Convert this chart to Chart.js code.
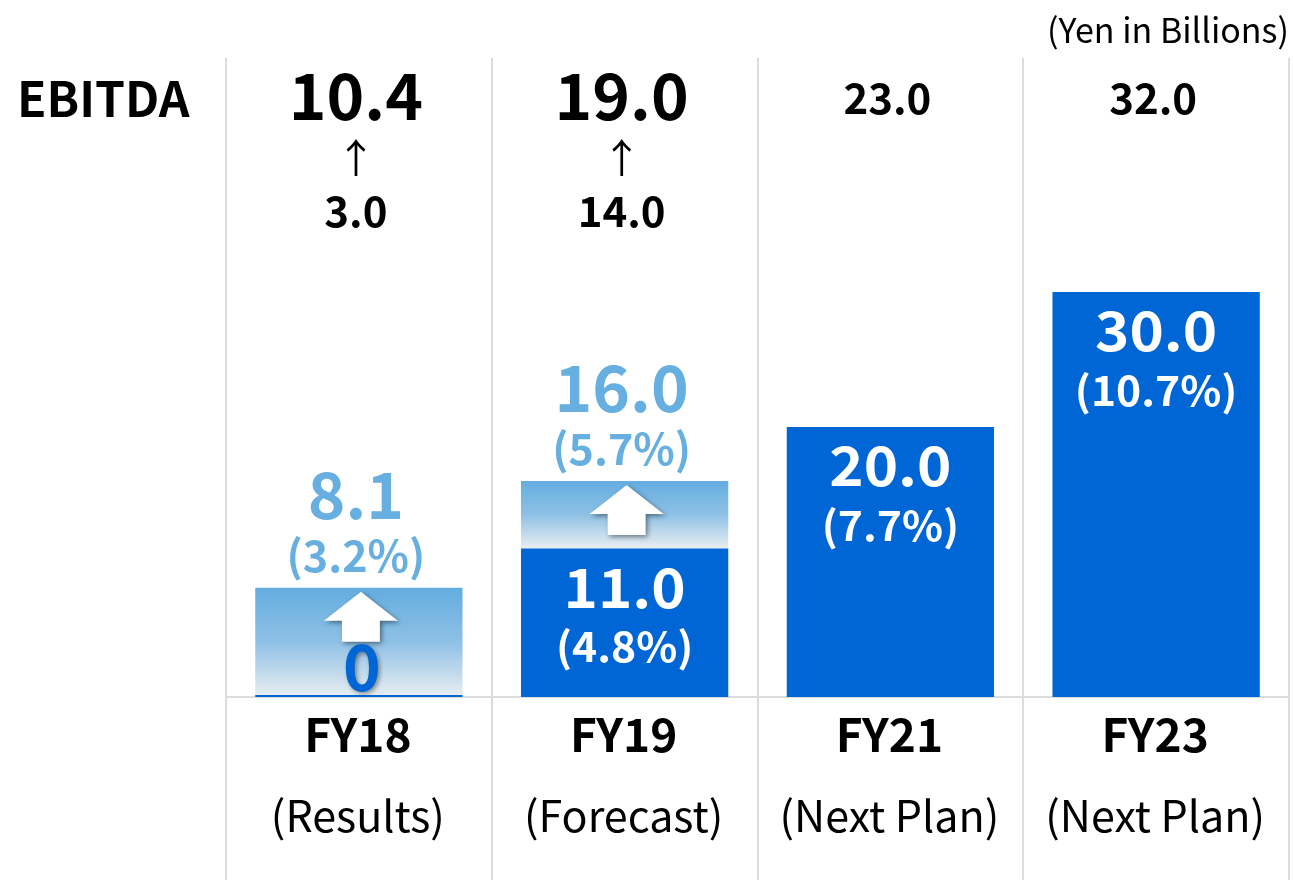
<!DOCTYPE html>
<html>
<head>
<meta charset="utf-8">
<script src="https://cdn.jsdelivr.net/npm/chart.js@4.4.1/dist/chart.umd.min.js"></script>
<style>
  html, body { margin: 0; padding: 0; background: #ffffff; }
  #wrap { width: 1293px; height: 880px; }
</style>
</head>
<body>
<div id="wrap"><canvas id="c" width="1293" height="880"></canvas></div>
<script>
// ---- data ----
const categories = ['FY18', 'FY19', 'FY21', 'FY23'];
const periodLabels = ['(Results)', '(Forecast)', '(Next Plan)', '(Next Plan)'];
const profitValues = [0, 11.0, 20.0, 30.0];
const profitRatios = [null, '(4.8%)', '(7.7%)', '(10.7%)'];
const targetValues = [8.1, 16.0, null, null];
const targetRatios = ['(3.2%)', '(5.7%)', null, null];
const ebitdaValues = ['10.4', '19.0', '23.0', '32.0'];
const ebitdaPrevious = ['3.0', '14.0', null, null];
const rowTitle = 'EBITDA';
const unitLabel = '(Yen in Billions)';

// ---- styles ----
const DARK = '#0066d6';
const LIGHT = '#66afe0';
const GRID = '#dcdcdc';
const FONT = '"Noto Sans CJK JP", "Noto Sans", sans-serif';

const targetRanges = categories.map((c, i) =>
  targetValues[i] == null ? null : [profitValues[i], targetValues[i]]);

function gradientFill(ctx) {
  const chart = ctx.chart;
  if (!chart.chartArea || ctx.type !== 'data' || targetValues[ctx.dataIndex] == null) return LIGHT;
  const y = chart.scales.y;
  const top = y.getPixelForValue(targetValues[ctx.dataIndex]);
  const bot = y.getPixelForValue(profitValues[ctx.dataIndex]);
  const g = chart.ctx.createLinearGradient(0, top, 0, bot);
  g.addColorStop(0, '#63ade0');
  g.addColorStop(0.5, '#8fc1e5');
  g.addColorStop(1, '#e9eef2');
  return g;
}

function blockArrow(ctx, cx, tipY, totalH) {
  const headW = 74, headH = 29, shaftW = 38;
  ctx.save();
  ctx.shadowColor = 'rgba(0,0,0,0.45)';
  ctx.shadowBlur = 5;
  ctx.shadowOffsetX = 2;
  ctx.shadowOffsetY = 2;
  ctx.fillStyle = '#ffffff';
  ctx.beginPath();
  ctx.moveTo(cx, tipY);
  ctx.lineTo(cx + headW / 2, tipY + headH);
  ctx.lineTo(cx + shaftW / 2, tipY + headH);
  ctx.lineTo(cx + shaftW / 2, tipY + totalH);
  ctx.lineTo(cx - shaftW / 2, tipY + totalH);
  ctx.lineTo(cx - shaftW / 2, tipY + headH);
  ctx.lineTo(cx - headW / 2, tipY + headH);
  ctx.closePath();
  ctx.fill();
  ctx.restore();
}

function txt(ctx, s, x, y, font, color, align, sx) {
  ctx.save();
  ctx.font = font;
  ctx.fillStyle = color;
  ctx.textAlign = align || 'center';
  ctx.textBaseline = 'middle';
  const k = sx || 1;
  ctx.translate(x, y);
  ctx.scale(k, 1);
  ctx.fillText(s, 0, 0);
  ctx.restore();
}

const labelsPlugin = {
  id: 'labels',
  afterDatasetsDraw(chart) {
    const ctx = chart.ctx;
    const x = chart.scales.x, y = chart.scales.y;
    const base = y.getPixelForValue(0);
    ctx.save();
    // header texts
    txt(ctx, unitLabel, 1289, 30, '400 34px ' + FONT, '#000', 'right');
    txt(ctx, rowTitle, 17, 99, '700 48px ' + FONT, '#000', 'left');

    categories.forEach((cat, i) => {
      const cx = x.getPixelForValue(i) - 3;
      // EBITDA row
      if (ebitdaPrevious[i]) {
        txt(ctx, ebitdaValues[i], cx, 96, '700 64px ' + FONT, '#000');
        txt(ctx, '↑', cx, 158, '400 40px ' + FONT, '#000');
        txt(ctx, ebitdaPrevious[i], cx, 211, '700 42px ' + FONT, '#000');
      } else {
        txt(ctx, ebitdaValues[i], cx, 98, '700 42px ' + FONT, '#000');
      }
      // x-axis category labels
      txt(ctx, cat, cx + 2, 735, '700 46px ' + FONT, '#000');
      txt(ctx, periodLabels[i], cx + 2, 816, '400 43px ' + FONT, '#000');

      // target (light) labels + arrow
      if (targetValues[i] != null) {
        const top = y.getPixelForValue(targetValues[i]);
        txt(ctx, targetValues[i].toFixed(1), cx, top - 93, '700 64px ' + FONT, LIGHT);
        txt(ctx, targetRatios[i], cx, top - 32, '700 43px ' + FONT, LIGHT);
        blockArrow(ctx, cx + 5, top + 4, 50);
      }
      // profit labels
      const pTop = y.getPixelForValue(profitValues[i]);
      if (profitValues[i] === 0) {
        ctx.save();
        ctx.shadowColor = 'rgba(0,0,0,0.4)';
        ctx.shadowBlur = 4;
        ctx.shadowOffsetX = 2;
        ctx.shadowOffsetY = 2;
        txt(ctx, '0', cx + 6, base - 30, '700 64px ' + FONT, DARK);
        ctx.restore();
      } else {
        txt(ctx, profitValues[i].toFixed(1), cx + 3, pTop + 39, '700 54px ' + FONT, '#fff', 'center', 1.08);
        txt(ctx, profitRatios[i], cx + 3, pTop + 98, '700 41px ' + FONT, '#fff', 'center', 1.04);
      }
    });
    ctx.restore();
  }
};

new Chart(document.getElementById('c'), {
  type: 'bar',
  data: {
    labels: categories,
    datasets: [
      {
        label: 'Operating profit',
        data: profitValues,
        backgroundColor: DARK,
        minBarLength: 2,
        grouped: false,
        barPercentage: 0.78,
        categoryPercentage: 1
      },
      {
        label: 'Target',
        data: targetRanges,
        backgroundColor: gradientFill,
        grouped: false,
        barPercentage: 0.78,
        categoryPercentage: 1
      }
    ]
  },
  options: {
    responsive: false,
    animation: false,
    layout: { padding: { left: 226, right: 4, top: 58, bottom: 0 } },
    plugins: { legend: { display: false }, tooltip: { enabled: false } },
    scales: {
      x: {
        grid: { offset: true, color: GRID, lineWidth: 2, drawTicks: true, tickLength: 183 },
        border: { display: true, color: GRID, width: 2 },
        ticks: { display: false }
      },
      y: { display: false, min: 0, max: 47.33 }
    }
  },
  plugins: [labelsPlugin]
});
</script>
</body>
</html>
